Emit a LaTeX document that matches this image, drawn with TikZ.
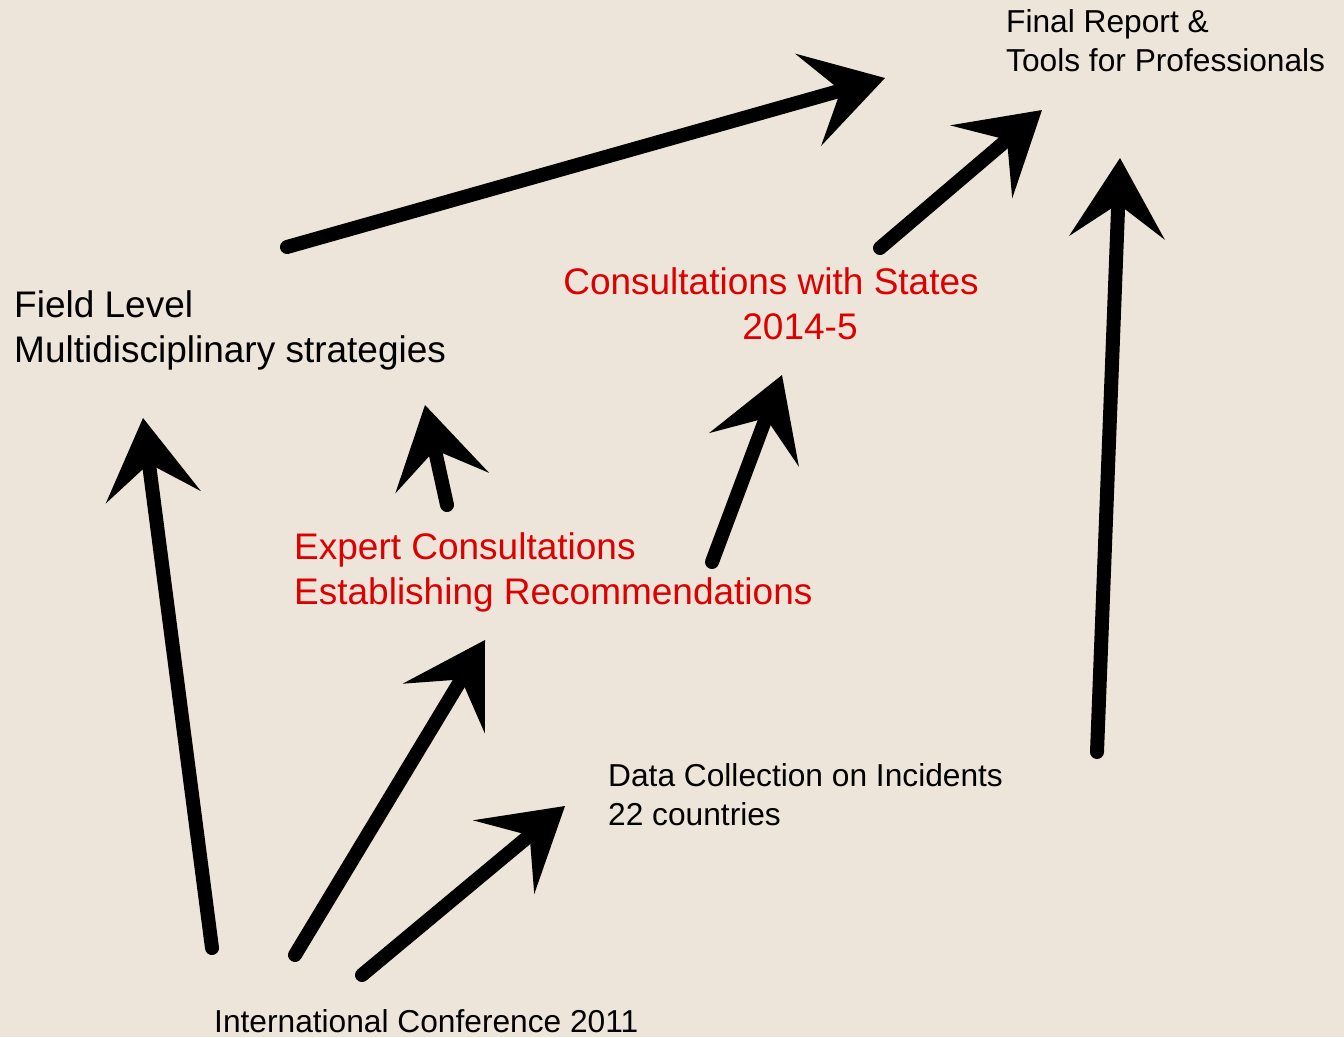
\documentclass[tikz,border=0pt]{standalone}
\usepackage{fontspec}
\setmainfont{Liberation Sans}
\usepackage{xcolor}
\usetikzlibrary{
    arrows.meta,
    positioning
}
\definecolor{paper}{HTML}{EDE5DA}
\definecolor{stagered}{HTML}{DD0000}
\tikzset{
    chalk/.style = {
      line width=14pt,
      line cap=round,
      draw=black,
      -{Stealth[length=80pt,width=96pt,inset=34pt,line width=0pt]}
    }
  }
\tikzset{
    bigtext/.style = {inner sep=0pt, align=left, anchor=base west,
      font=\fontsize{37}{44.5}\selectfont}
  }
\tikzset{
    smalltext/.style = {inner sep=0pt, align=left, anchor=base west,
      font=\fontsize{31.7}{38.5}\selectfont}
  }

\begin{document}
\begin{tikzpicture}[x=1pt,y=-1pt]

\fill[paper] (0,0) rectangle (1344,1037);
\useasboundingbox (0,0) rectangle (1344,1037);

% texts (base = last line)
\node[smalltext] at (1006,71) (report)
  {Final Report \&\\Tools for Professionals};

\node[bigtext] at (14,362) (field)
  {Field Level\\Multidisciplinary strategies};

\node[bigtext,text=stagered,anchor=base] at (771,294) (states)
  {Consultations with States};
\node[bigtext,text=stagered,anchor=base] at (800,339) (states_year)
  {2014-5};

\node[bigtext,text=stagered] at (294,604) (expert)
  {Expert Consultations\\Establishing Recommendations};

\node[smalltext] at (608,825) (data)
  {Data Collection on Incidents\\22 countries};

\node[smalltext] at (214,1032) (conf)
  {International Conference 2011};

% arrow ends
\coordinate (conf_field)   at (212,948);
\coordinate (field_in)     at (143,418);
\coordinate (conf_expert)  at (295,955);
\coordinate (expert_in)    at (485,640);
\coordinate (conf_data)    at (362,975);
\coordinate (data_in)      at (565,806);

\coordinate (expert_left)  at (447,505);
\coordinate (field_up)     at (425,405);
\coordinate (expert_right) at (712,562);
\coordinate (states_in)    at (782,375);

\coordinate (field_out)    at (287,247);
\coordinate (report_a)     at (885,78);
\coordinate (states_out)   at (880,248);
\coordinate (report_b)     at (1042,110);
\coordinate (data_out)     at (1097,752);
\coordinate (report_c)     at (1120,158);

% arrows
\draw[chalk] (conf_field) -- (field_in);
\draw[chalk] (conf_expert) -- (expert_in);
\draw[chalk] (conf_data) -- (data_in);
\draw[chalk] (expert_left) -- (field_up);
\draw[chalk] (expert_right) -- (states_in);
\draw[chalk] (field_out) -- (report_a);
\draw[chalk] (states_out) -- (report_b);
\draw[chalk] (data_out) -- (report_c);

\end{tikzpicture}
\end{document}
